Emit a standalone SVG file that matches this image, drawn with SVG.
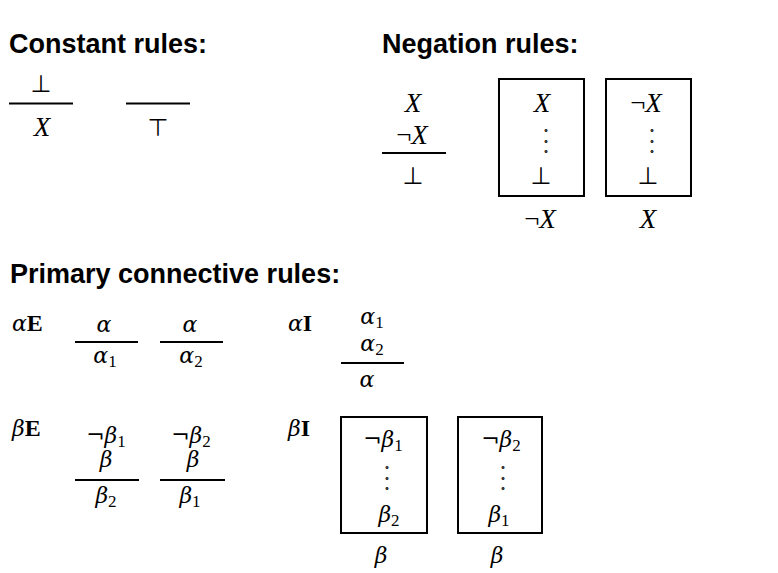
<svg xmlns="http://www.w3.org/2000/svg" width="778" height="573" viewBox="0 0 778 573">
<style>
.h{font-family:"Liberation Sans",Arial,sans-serif;font-weight:bold;font-size:27px;fill:#000}
.m{font-family:"Liberation Serif","Times New Roman",serif;font-style:italic;font-size:27px;fill:#000;text-anchor:middle}
.lo{font-family:"DejaVu Serif",serif;font-size:22px}
.l{text-anchor:start}
.n{font-style:normal}
.b{font-family:"Liberation Serif",serif;font-style:normal;font-weight:bold;font-size:24px}
.sub{font-family:"Liberation Serif",serif;font-style:normal;font-size:17px}
.sym{font-family:"DejaVu Sans",sans-serif;font-style:normal;font-size:24px;fill:#000;text-anchor:middle}
.dots{font-family:"Liberation Serif",serif;font-size:8px;fill:#000;stroke:#000;stroke-width:2;stroke-linejoin:round;text-anchor:middle}
.rule{stroke:#000;stroke-width:2;fill:none}
.box{stroke:#000;stroke-width:2;fill:none}
</style>
<rect width="778" height="573" fill="#fff"/>
<g id="headings">
<text class="h" x="9" y="53">Constant rules:</text>
<text class="h" x="382" y="53">Negation rules:</text>
<text class="h" x="10" y="283">Primary connective rules:</text>
</g>
<g id="connectors"></g>
<g id="const-bot">
<text class="sym" x="41" y="92">⊥</text>
<line class="rule" x1="9" y1="103.5" x2="73" y2="103.5"/>
<text class="m" x="42" y="136">X</text>
</g>
<g id="const-top">
<line class="rule" x1="126" y1="103.5" x2="190" y2="103.5"/>
<text class="sym" x="158" y="136">⊤</text>
</g>
<g id="neg-elim">
<text class="m" x="413" y="112">X</text>
<text class="m" x="412" y="144"><tspan class="n">¬</tspan>X</text>
<line class="rule" x1="382" y1="153" x2="446" y2="153"/>
<text class="sym" x="413" y="184">⊥</text>
</g>
<g id="neg-intro-1">
<rect class="box" x="499" y="79" width="85" height="117"/>
<text class="m" x="542" y="112">X</text>
<text class="dots"><tspan x="546" y="131">.</tspan><tspan x="546" y="141.5">.</tspan><tspan x="546" y="152">.</tspan></text>
<text class="sym" x="541" y="184">⊥</text>
<text class="m" x="540" y="228"><tspan class="n">¬</tspan>X</text>
</g>
<g id="neg-intro-2">
<rect class="box" x="606" y="79" width="85" height="117"/>
<text class="m" x="646" y="112"><tspan class="n">¬</tspan>X</text>
<text class="dots"><tspan x="652" y="131">.</tspan><tspan x="652" y="141.5">.</tspan><tspan x="652" y="152">.</tspan></text>
<text class="sym" x="648" y="184">⊥</text>
<text class="m" x="648" y="228">X</text>
</g>
<g id="alpha-elim">
<text class="m lo l" x="12" y="331">α<tspan class="b">E</tspan></text>
<text class="m lo" x="104" y="332">α</text>
<line class="rule" x1="75" y1="342" x2="138" y2="342"/>
<text class="m lo" x="105" y="363">α<tspan class="sub" dy="4">1</tspan></text>
<text class="m lo" x="190" y="332">α</text>
<line class="rule" x1="160" y1="342" x2="223" y2="342"/>
<text class="m lo" x="191" y="363">α<tspan class="sub" dy="4">2</tspan></text>
</g>
<g id="alpha-intro">
<text class="m lo l" x="288" y="331">α<tspan class="b">I</tspan></text>
<text class="m lo" x="372" y="324">α<tspan class="sub" dy="4">1</tspan></text>
<text class="m lo" x="372" y="351">α<tspan class="sub" dy="4">2</tspan></text>
<line class="rule" x1="341" y1="363" x2="404" y2="363"/>
<text class="m lo" x="367" y="387">α</text>
</g>
<g id="beta-elim">
<text class="m lo l" x="12" y="436">β<tspan class="b">E</tspan></text>
<text class="m lo" x="106" y="443"><tspan class="n">¬</tspan>β<tspan class="sub" dy="4">1</tspan></text>
<text class="m lo" x="106" y="467">β</text>
<line class="rule" x1="75" y1="480" x2="139" y2="480"/>
<text class="m lo" x="106" y="503">β<tspan class="sub" dy="4">2</tspan></text>
<text class="m lo" x="191" y="443"><tspan class="n">¬</tspan>β<tspan class="sub" dy="4">2</tspan></text>
<text class="m lo" x="193" y="467">β</text>
<line class="rule" x1="160" y1="480" x2="225" y2="480"/>
<text class="m lo" x="190" y="503">β<tspan class="sub" dy="4">1</tspan></text>
</g>
<g id="beta-intro">
<text class="m lo l" x="288" y="436">β<tspan class="b">I</tspan></text>
</g>
<g id="beta-intro-1">
<rect class="box" x="341" y="417" width="86" height="116"/>
<text class="m lo" x="383" y="447"><tspan class="n">¬</tspan>β<tspan class="sub" dy="4">1</tspan></text>
<text class="dots"><tspan x="387" y="468">.</tspan><tspan x="387" y="478.5">.</tspan><tspan x="387" y="489">.</tspan></text>
<text class="m lo" x="389" y="522">β<tspan class="sub" dy="4">2</tspan></text>
<text class="m lo" x="381" y="563">β</text>
</g>
<g id="beta-intro-2">
<rect class="box" x="458" y="417" width="84" height="116"/>
<text class="m lo" x="501" y="447"><tspan class="n">¬</tspan>β<tspan class="sub" dy="4">2</tspan></text>
<text class="dots"><tspan x="503" y="468">.</tspan><tspan x="503" y="478.5">.</tspan><tspan x="503" y="489">.</tspan></text>
<text class="m lo" x="499" y="522">β<tspan class="sub" dy="4">1</tspan></text>
<text class="m lo" x="497" y="563">β</text>
</g>
</svg>
